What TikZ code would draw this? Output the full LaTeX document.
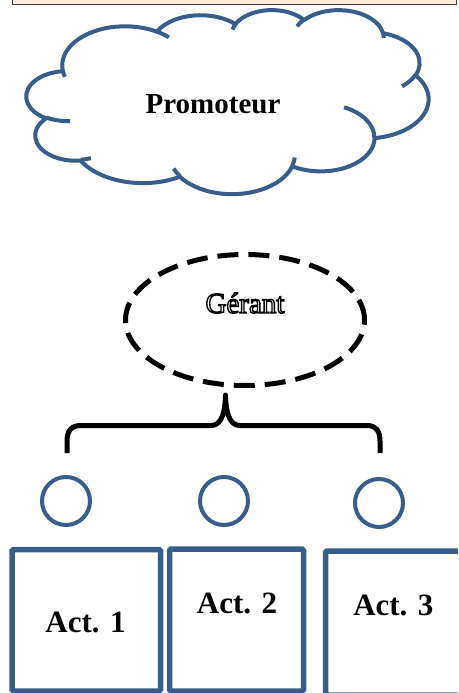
\documentclass[tikz,border=0pt]{standalone}
\usepackage{fontspec}
\setmainfont{Liberation Serif}
\usepackage{tikz}
\usetikzlibrary{shapes.geometric,positioning}
\usepackage{xcolor}
\definecolor{orgblue}{HTML}{385D8A}
\definecolor{peach}{HTML}{FDEADA}
\definecolor{framegray}{HTML}{404040}
% one lobe of the cloud: x radius, y radius, start and sweep (visual angles)
\newcommand\cloudarc[4]{arc[x radius=#1, y radius=#2,
  start angle={atan2(#1*sin(#3),#2*cos(#3))},
  delta angle={mod(atan2(#1*sin(#3+#4),#2*cos(#3+#4))-atan2(#1*sin(#3),#2*cos(#3))+720,360)}]}
% hollow (outlined) letters
\newcommand\hollow[1]{\special{pdf:literal direct 1 Tr 1.4 w}#1\special{pdf:literal direct 0 Tr}}
\tikzset{
  cloudline/.style = {draw=orgblue, line width=4pt, line join=round},
  gerell/.style    = {ellipse, draw=black, line width=5pt,
                      dash pattern=on 21pt off 10pt, minimum width=239pt,
                      minimum height=131pt, inner sep=0pt},
  ring/.style      = {circle, draw=orgblue, line width=4pt,
                      minimum size=48pt, inner sep=0pt},
  actbox/.style    = {rectangle, rounded corners=1.5pt, draw=orgblue,
                      line width=5.5pt, inner sep=0pt},
  acttxt/.style    = {font=\fontsize{31}{31}\selectfont\bfseries,
                      inner sep=0pt, anchor=base},
  bracket/.style   = {draw=black, line width=5pt, line join=round},
}

\begin{document}
\begin{tikzpicture}[x=1pt, y=-1pt]
\path[use as bounding box] (0,0) rectangle (458,693);
\clip (0,0) rectangle (458,693);

%% top strip
\draw[fill=peach, draw=framegray, line width=1.5pt] (12.5,-5) rectangle (456.5,4.5);

%% cloud
\begin{scope}[shift={(26.5,9.5)}, xscale=0.930556, yscale=0.425926]
\draw[cloudline, fill=white] (39.00,143.70)
  \cloudarc{67.53}{91.90}{-190.4875}{123.7805}
  \cloudarc{53.33}{72.67}{-144.1024}{89.9452}
  \cloudarc{43.65}{59.45}{-145.8079}{99.7230}
  \cloudarc{48.57}{65.95}{-130.9861}{117.2417}
  \cloudarc{53.33}{72.73}{-78.7089}{109.0269}
  \cloudarc{67.75}{92.20}{-46.2673}{130.2690}
  \cloudarc{57.85}{78.67}{0.6250}{114.0333}
  \cloudarc{67.52}{92.15}{22.4516}{115.1726}
  \cloudarc{77.20}{105.43}{66.2426}{75.7110}
  \cloudarc{43.60}{59.18}{-274.9421}{146.7356}
  \cloudarc{43.45}{59.45}{-246.8285}{152.5189} -- cycle;
\draw[cloudline]
  (46.93,261.77) \cloudarc{43.45}{59.45}{86.7420}{26.4295}
  (69.28,348.99) \cloudarc{43.60}{59.18}{73.6105}{11.4475}
  (164.78,390.90) \cloudarc{67.52}{92.15}{137.6242}{14.0811}
  (288.27,347.51) \cloudarc{67.52}{92.15}{6.4533}{15.9984}
  (341.29,229.54) \cloudarc{57.85}{78.67}{-70.2924}{70.9174}
  (417.98,153.54) \cloudarc{53.33}{72.73}{30.3180}{27.7515}
  (383.24,54.26) \cloudarc{48.57}{65.95}{-13.7443}{14.8589}
  (290.78,39.52) \cloudarc{48.57}{65.95}{-149.1815}{18.1954}
  (221.41,47.20) \cloudarc{43.65}{59.45}{-163.4943}{17.6864}
  (140.00,51.92) \cloudarc{67.53}{91.90}{-66.7070}{12.3194}
  (41.27,157.89) \cloudarc{67.53}{91.90}{157.6544}{11.8582};
\end{scope}
\node[font=\fontsize{29}{29}\selectfont\bfseries, inner sep=0pt, anchor=base]
  (prom) at (213,113) {Promoteur};

%% manager
\node[gerell] (ger) at (245,320) {};
\node[font=\fontsize{29}{29}\selectfont, inner sep=0pt, anchor=base]
  (gertxt) at (245,313) {\hollow{Gérant}};

%% brace
\coordinate (bl) at (67,453);
\coordinate (tip) at (225.5,395);
\coordinate (br) at (380,453);
\draw[bracket] (bl) -- (67,441) .. controls (67,431) and (71,425.5) .. (81,425.5)
  -- (211,425.5) .. controls (219,425.5) and (225,418) .. (tip)
  .. controls (226,418) and (232,425.5) .. (240,425.5)
  -- (367,425.5) .. controls (376,425.5) and (380,431) .. (380,441) -- (br);

%% shareholders
\node[ring] (c1) at (66,501) {};
\node[ring] (c2) at (224,501) {};
\node[ring] (c3) at (379,503) {};

\node[actbox, minimum width=148.5pt, minimum height=141.5pt] (box1) at (86.25,620.25) {};
\node[actbox, minimum width=134pt, minimum height=142pt]     (box2) at (236.5,620) {};
\node[actbox, minimum width=150pt, minimum height=144pt]     (box3) at (400.5,623) {};

\node[acttxt] (act1) at (85.5,632.7) {Act. 1};
\node[acttxt] (act2) at (237,613.3)  {Act. 2};
\node[acttxt] (act3) at (393.3,615.7) {Act. 3};

\end{tikzpicture}
\end{document}
